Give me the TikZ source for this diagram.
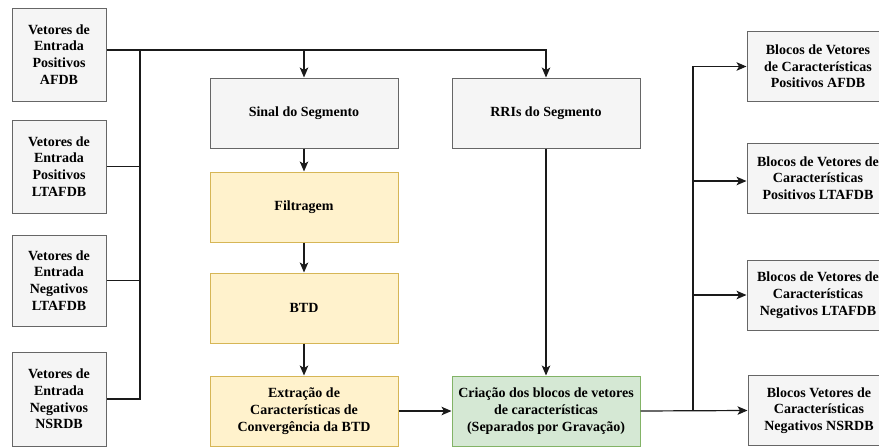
\documentclass[tikz,border=0pt]{standalone}
\usepackage{fontspec}
\setmainfont{Liberation Serif}
\usetikzlibrary{arrows.meta}
\definecolor{grayfill}{HTML}{F5F5F5}
\definecolor{graydraw}{HTML}{666666}
\definecolor{yelfill}{HTML}{FFF2CC}
\definecolor{yeldraw}{HTML}{D6B656}
\definecolor{grnfill}{HTML}{D5E8D4}
\definecolor{grndraw}{HTML}{82B366}
\definecolor{linec}{HTML}{1A1A1A}
\begin{document}
\begin{tikzpicture}[x=1pt,y=-1pt,
  base/.style={rectangle,line width=1pt,align=center,inner sep=0pt,
    font=\bfseries\fontsize{14}{16.7}\selectfont},
  graybox/.style={base,draw=graydraw,fill=grayfill},
  yelbox/.style={base,draw=yeldraw,fill=yelfill,minimum width=188pt,minimum height=70pt},
  grnbox/.style={base,draw=grndraw,fill=grnfill,minimum width=188pt,minimum height=70pt},
  leftbox/.style={graybox,minimum width=94pt,minimum height=93pt},
  midbox/.style={graybox,minimum width=188pt,minimum height=70pt},
  rightbox/.style={graybox,minimum width=142pt,minimum height=70pt},
  conn/.style={draw=linec,line width=1.2pt},
  arr/.style={conn,-{Stealth[length=10pt,width=8.5pt,inset=2.5pt]}}
]
\useasboundingbox (0,0) rectangle (879,447);

\node[leftbox] (b1) at (59,54.5) {Vetores de\\Entrada\\Positivos\\AFDB};
\node[leftbox] (b2) at (59,166.5) {Vetores de\\Entrada\\Positivos\\LTAFDB};
\node[leftbox,minimum height=91pt] (b3) at (59,280.5) {Vetores de\\Entrada\\Negativos\\LTAFDB};
\node[leftbox,minimum height=94pt] (b4) at (59,399) {Vetores de\\Entrada\\Negativos\\NSRDB};

\node[midbox] (sinal) at (304,113) {Sinal do Segmento};
\node[midbox] (rris) at (546,113) {RRIs do Segmento};
\node[yelbox] (filt) at (304,207) {Filtragem};
\node[yelbox] (btd) at (304,308) {BTD};
\node[yelbox] (extr) at (304,411) {Extração de\\Características de\\Convergência da BTD};
\node[grnbox] (cria) at (546,411) {Criação dos blocos de vetores\\de características\\(Separados por Gravação)};

\node[rightbox] (r1) at (818,66.5) {Blocos de Vetores\\de Características\\Positivos AFDB};
\node[rightbox] (r2) at (818,178) {Blocos de Vetores de\\Características\\Positivos LTAFDB};
\node[rightbox] (r3) at (818,295) {Blocos de Vetores de\\Características\\Negativos LTAFDB};
\node[rightbox] (r4) at (819,410.5) {Blocos Vetores de\\Características\\Negativos NSRDB};

% left bus
\coordinate (p1) at ([yshift=4.5pt]b1.east);
\coordinate (lt) at (140,50);
\draw[conn] (lt) |- (b4.east);
\draw[conn] (b2.east) -- (b2.east -| lt);
\draw[conn] (b3.east) -- (b3.east -| lt);
\draw[arr] (p1) -| (rris.north);
\draw[arr] (sinal.north |- p1) -- (sinal.north);

% center chain
\draw[arr] (sinal.south) -- (filt.north);
\draw[arr] (filt.south) -- (btd.north);
\draw[arr] (btd.south) -- (extr.north);
\draw[arr] (extr.east) -- (cria.west);
\draw[arr] (rris.south) -- (cria.north);

% right bus
\coordinate (rb) at (693,410.5);
\coordinate (r2in) at ([yshift=-3pt]r2.west);
\draw[arr] (cria.east) -- (r4.west);
\draw[arr] (rb) |- (r1.west);
\draw[arr] (rb |- r2in) -- (r2in);
\draw[arr] (rb |- r3.west) -- (r3.west);
\end{tikzpicture}
\end{document}
